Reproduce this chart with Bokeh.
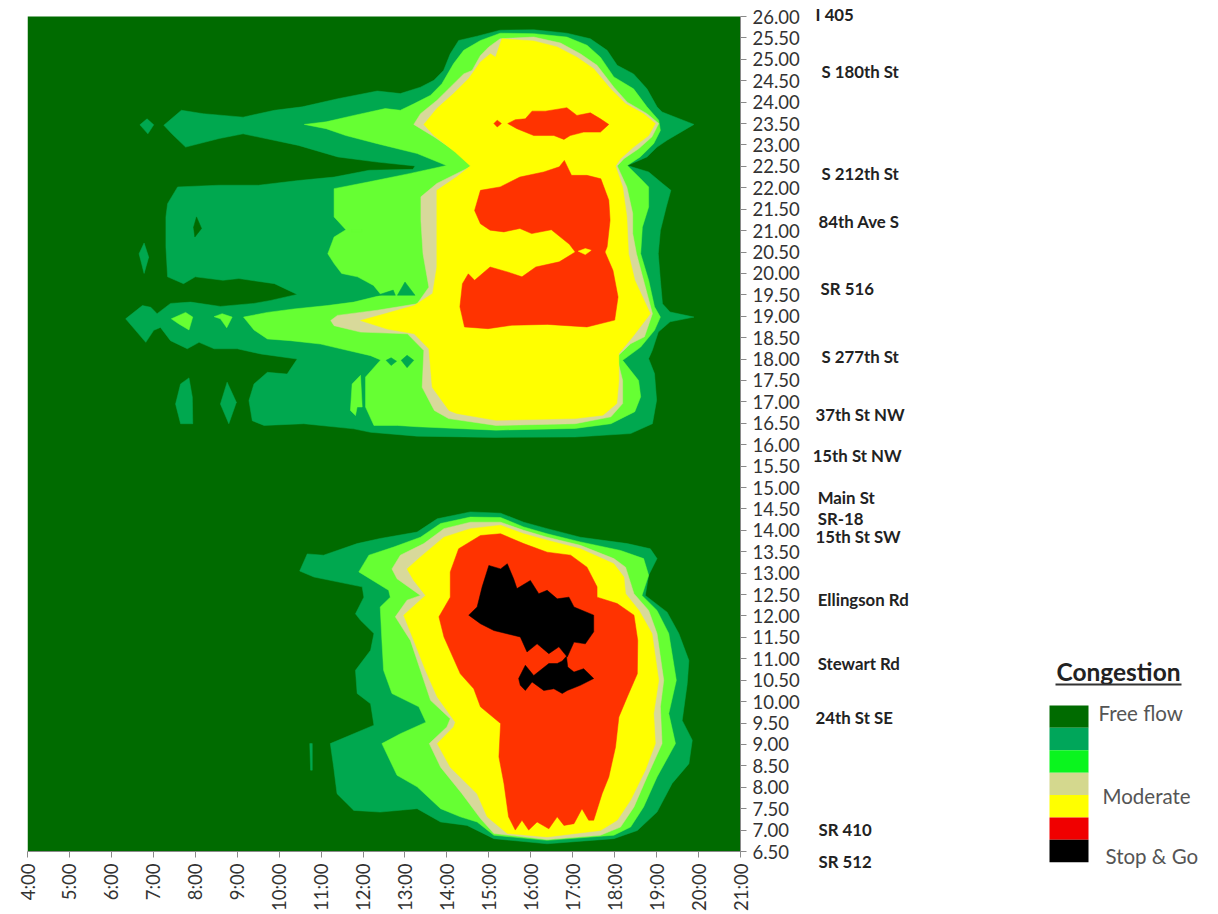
from math import pi
from bokeh.core.properties import value
from bokeh.embed import file_html
from bokeh.layouts import row
from bokeh.models import FixedTicker, Range1d
from bokeh.plotting import figure
from bokeh.resources import INLINE

FONT = "Lato"
C_FREE, C_LOW, C_MID, C_TAN, C_YEL, C_RED, C_BLK = "#006B00", "#00A84F", "#66FF33", "#D8D99A", "#FFFF00", "#FF3300", "#000000"

hour_ticks = list(range(4, 22))
hour_labels = [f"{h}:00" for h in hour_ticks]
mile_ticks = [6.5 + 0.5 * i for i in range(40)]

stations = ["I 405", "S 180th St", "S 212th St", "84th Ave S", "SR 516", "S 277th St", "37th St NW", "15th St NW",
            "Main St", "SR-18", "15th St SW", "Ellingson Rd", "Stewart Rd", "24th St SE", "SR 410", "SR 512"]
station_hour = [22.79, 22.93, 22.93, 22.86, 22.91, 22.93, 22.79, 22.72, 22.84, 22.84, 22.79, 22.84, 22.84, 22.79, 22.86, 22.86]
station_mile = [26.05, 24.72, 22.33, 21.21, 19.65, 18.06, 16.71, 15.75, 14.77, 14.28, 13.86, 12.39, 10.89, 9.63, 7.01, 6.27]

# North congestion: contour boundaries (hour of day, milepost)
n2_h = [15.27,16.07,16.86,17.42,17.82,18.06,18.45,18.77,19.01,19.13,19.89,19.25,19.01,18.77,18.30,18.81,19.14,19.34,19.23,19.09,19.04,19.09,19.14,19.32,19.89,19.32,19.04,18.90,18.81,18.95,19.00,18.90,18.38,17.06,15.17,13.29,12.18,11.78,10.59,9.64,9.36,9.28,9.40,9.72,10.19,10.43,9.56,9.00,8.45,8.09,7.81,7.41,7.17,7.01,6.82,6.34,6.74,6.94,7.09,7.41,7.89,8.60,9.40,9.80,10.43,9.89,9.04,8.66,8.00,7.72,7.34,7.30,7.30,7.34,7.58,8.57,9.51,10.46,11.31,12.15,13.19,13.24,12.34,11.40,10.46,9.14,8.57,7.77,7.44,7.25,7.67,8.19,9.14,9.89,10.55,11.40,12.34,12.89,13.37,13.69,13.92,14.08,14.28,14.72]
n2_m = [25.68,25.69,25.61,25.48,25.21,24.86,24.66,24.31,23.89,23.77,23.48,23.11,22.95,22.72,22.52,22.37,22.10,21.94,21.55,21.00,20.46,19.84,19.29,19.10,18.98,18.87,18.63,18.21,18.01,17.66,17.04,16.49,16.26,16.18,16.17,16.20,16.29,16.37,16.49,16.45,16.56,17.03,17.42,17.69,17.65,18.00,18.12,18.24,18.24,18.39,18.24,18.43,18.74,18.67,18.39,18.94,19.25,19.21,19.06,19.30,19.33,19.23,19.30,19.37,19.51,19.76,19.88,19.84,19.92,19.76,19.92,20.62,21.32,21.63,22.02,22.06,22.06,22.17,22.25,22.41,22.43,22.51,22.60,22.72,22.99,23.26,23.15,22.95,23.26,23.46,23.81,23.73,23.65,23.81,23.89,24.08,24.26,24.20,24.35,24.51,24.74,25.13,25.44,25.54]
n2_islands = [
    ([6.68,6.85,7.01,6.87], [23.47,23.61,23.47,23.26]),
    ([6.66,6.78,6.89,6.78], [20.46,20.71,20.38,20.00]),
    ([7.53,7.65,7.85,7.93,7.94,7.65], [16.95,17.42,17.56,17.11,16.49,16.49]),
    ([8.60,8.76,8.98,8.80], [16.95,17.46,16.99,16.49]),
]
n2_hole_h = [7.96,8.03,8.15,7.99]
n2_hole_m = [21.08,21.32,21.05,20.85]

n3_h = [15.27,16.07,16.86,17.34,17.66,17.98,18.45,18.77,19.05,19.09,18.93,18.61,18.30,18.62,18.81,18.81,18.66,18.62,18.81,18.95,19.09,18.95,18.62,18.19,18.57,18.62,18.48,17.91,17.06,15.17,13.29,12.82,12.26,12.06,12.06,12.42,12.18,11.47,10.99,10.27,9.72,9.40,9.15,9.72,10.35,11.15,11.78,12.44,12.25,11.87,11.49,11.31,11.16,11.31,11.59,11.31,11.31,12.15,13.10,13.99,13.29,12.34,11.59,11.12,10.60,11.12,11.78,12.53,12.89,13.21,13.61,13.88,14.16,14.40,14.80]
n3_m = [25.61,25.60,25.52,25.33,25.05,24.59,24.31,23.89,23.58,23.34,23.03,22.72,22.52,22.21,22.02,21.55,21.08,20.46,19.84,19.22,18.98,18.67,18.28,17.97,17.50,17.12,16.77,16.49,16.38,16.34,16.42,16.45,16.45,16.88,17.58,17.98,18.08,18.24,18.35,18.43,18.47,18.68,18.98,19.09,19.17,19.25,19.33,19.49,19.72,19.92,20.00,20.23,20.46,20.85,21.02,21.32,21.98,22.14,22.33,22.52,22.80,23.03,23.22,23.38,23.48,23.54,23.69,23.85,23.81,23.96,24.16,24.43,24.90,25.21,25.44]
n3_islands = [
    ([7.43,7.77,7.94,7.85,7.61], [18.94,19.09,18.98,18.68,18.82]),
    ([8.45,8.64,8.88,8.75,8.60], [18.99,19.06,18.98,18.73,18.94]),
    ([11.70,11.74,11.94,11.98,11.86,11.82], [16.80,17.42,17.62,16.88,16.88,16.68]),
    ([11.73,11.97,11.97,11.73], [21.03,21.02,20.97,20.97]),
]
n3_holes = [
    ([12.82,13.00,13.24], [19.49,19.80,19.49]),
    ([12.34,12.72,12.77], [19.49,19.61,19.49]),
    ([12.55,12.67,12.80,12.67], [17.97,18.03,17.95,17.85]),
    ([12.91,13.05,13.21,13.05], [17.97,18.09,17.97,17.80]),
]

n4_h = [15.27,16.07,16.71,17.18,17.58,17.98,18.30,18.77,19.05,18.89,18.57,18.22,18.06,18.29,18.43,18.43,18.52,18.71,18.90,18.71,18.38,18.05,18.19,18.19,17.91,17.06,15.17,14.04,13.70,13.41,13.45,13.06,11.94,11.31,11.23,11.39,11.94,12.34,13.29,13.57,13.43,13.38,13.38,13.76,14.60,14.24,13.69,13.21,13.37,13.76,14.08,14.40,14.60,14.80,15.00]
n4_m = [25.48,25.52,25.38,25.13,24.86,24.35,24.00,23.73,23.50,23.19,22.91,22.68,22.51,22.02,21.40,20.93,20.46,19.76,19.06,18.52,18.36,18.05,17.50,16.96,16.65,16.49,16.45,16.61,16.80,17.34,18.20,18.59,18.63,18.78,18.90,19.02,19.09,19.14,19.29,19.68,20.46,21.24,21.79,22.10,22.51,22.83,23.19,23.48,23.73,24.04,24.35,24.66,24.74,25.09,25.29]

n5_h = [15.31,16.07,16.63,17.10,17.50,17.90,18.26,18.69,18.97,18.81,18.45,18.14,18.02,18.19,18.29,18.33,18.48,18.85,18.43,18.10,18.10,18.05,17.72,17.06,15.17,14.23,14.05,13.65,13.57,13.22,12.58,11.94,12.50,13.22,13.66,13.76,13.76,13.76,14.23,14.56,14.20,13.69,13.45,13.76,14.16,14.52,14.80,15.04,15.16]
n5_m = [25.48,25.43,25.29,25.05,24.78,24.31,23.96,23.73,23.50,23.22,22.95,22.68,22.51,22.02,21.32,20.46,19.84,19.06,18.52,18.13,17.50,16.96,16.69,16.61,16.57,16.73,16.80,17.34,18.24,18.59,18.70,18.90,19.05,19.25,19.53,20.15,21.24,21.94,22.25,22.51,22.83,23.22,23.48,23.85,24.20,24.55,24.94,25.13,25.05]

n6a_h = [15.45,15.63,15.87,16.03,16.35,16.86,17.10,17.42,17.66,17.86,17.66,17.26,16.94,16.79,16.55,16.07,15.67]
n6a_m = [23.50,23.59,23.61,23.79,23.79,23.87,23.69,23.75,23.61,23.48,23.30,23.30,23.22,23.13,23.22,23.22,23.38]
n6s_h = [15.12,15.20,15.30,15.20]
n6s_m = [23.50,23.58,23.50,23.42]
n6b_h = [14.66,14.80,15.27,15.74,16.31,16.68,16.80,16.97,17.34,17.67,17.86,17.89,17.82,17.77,17.96,18.08,18.00,17.34,16.40,15.55,14.98,14.42,14.31,14.37,14.51,14.66,15.03,15.46,15.79,16.12,16.68,17.06,16.92,16.49,16.02,15.74,15.36,15.03,14.80]
n6b_m = [21.47,21.94,22.02,22.25,22.37,22.49,22.64,22.29,22.29,22.21,21.71,21.24,20.62,20.50,20.07,19.45,18.91,18.75,18.81,18.79,18.71,18.75,19.22,19.76,19.99,19.84,20.15,20.03,19.92,20.15,20.27,20.50,20.68,21.02,20.93,21.05,20.97,21.01,21.16]
n6_dot_h = [17.13,17.30,17.44,17.30]
n6_dot_m = [20.52,20.58,20.54,20.44]

# South congestion
s2_h = [10.49,10.67,11.06,11.86,12.41,13.29,13.77,14.56,15.28,15.83,16.39,17.18,18.30,18.85,19.01,18.81,18.73,19.25,19.53,19.77,19.73,19.61,19.85,19.77,19.37,19.01,18.54,17.98,16.39,15.12,14.48,13.85,13.29,12.41,11.78,11.38,11.30,11.22,12.26,12.18,11.86,11.82,12.18,12.26,11.94,11.82,12.02,11.98,10.83]
s2_m = [13.05,13.45,13.42,13.69,13.81,13.96,14.27,14.43,14.40,14.19,14.04,13.84,13.69,13.57,13.34,12.95,12.48,12.09,11.59,10.96,10.42,9.56,9.10,8.55,8.09,7.42,6.99,6.80,6.68,6.80,7.11,7.19,7.50,7.42,7.46,7.85,8.47,9.02,9.45,9.95,10.19,10.73,11.20,11.59,11.90,12.05,12.44,12.68,12.91]
s2_sliver_h = [10.73,10.79,10.79,10.75]
s2_sliver_m = [9.02,9.02,8.40,8.40]

s3_h = [11.90,12.14,12.73,13.37,13.85,14.56,15.28,15.83,16.39,17.18,18.14,18.69,18.81,18.65,19.01,19.29,19.47,19.29,19.45,19.01,18.69,18.38,17.98,16.39,15.12,14.72,14.32,13.85,13.29,12.81,12.45,12.89,13.50,13.33,12.69,12.49,12.45,12.41,12.65,12.61]
s3_m = [13.03,13.42,13.61,13.84,14.16,14.31,14.30,14.08,13.92,13.73,13.53,13.34,12.95,12.48,12.13,11.59,10.50,9.72,9.02,8.24,7.54,7.07,6.88,6.76,6.88,7.19,7.31,7.50,8.01,8.28,9.02,9.25,9.52,9.88,10.19,10.73,11.43,12.21,12.44,12.60]

s4_h = [12.69,12.89,13.45,13.93,14.56,15.28,15.83,16.39,17.18,17.98,18.26,18.46,18.81,19.01,19.17,19.09,19.13,18.77,18.46,18.14,17.66,16.39,15.12,14.80,14.36,13.85,13.58,14.00,14.08,13.61,13.37,13.13,12.77,13.05,13.37,12.81]
s4_m = [13.10,13.42,13.69,14.04,14.19,14.19,14.00,13.84,13.65,13.34,13.14,12.52,12.13,11.59,10.50,9.88,9.02,8.24,7.54,7.07,6.88,6.78,6.92,7.27,7.85,8.47,9.02,9.41,9.60,10.03,10.73,11.43,11.98,12.37,12.48,12.87]

s5_h = [13.05,13.37,13.93,14.56,15.28,15.83,16.39,17.18,17.98,18.22,18.26,18.58,18.89,19.05,18.93,18.97,18.73,18.38,18.06,17.66,16.39,15.44,14.96,14.72,14.08,13.77,14.16,14.20,13.77,13.49,13.21,12.97,13.49,13.21]
s5_m = [13.10,13.38,13.84,14.04,14.12,13.92,13.77,13.57,13.22,12.91,12.52,12.13,11.59,10.50,9.72,9.02,8.40,7.70,7.23,6.99,6.84,6.92,7.31,7.85,8.47,9.02,9.41,9.52,10.11,10.73,11.43,12.02,12.48,12.83]

s6_h = [14.08,14.28,14.80,15.28,15.83,16.39,16.95,17.34,17.58,17.58,18.06,18.46,18.55,18.54,18.30,18.10,18.02,17.86,17.70,17.50,17.38,17.22,17.03,16.79,16.63,16.43,16.15,15.95,15.79,15.63,15.47,15.36,15.24,15.28,14.80,14.64,14.32,13.93,13.81,14.08]
s6_m = [13.03,13.57,13.88,13.92,13.69,13.49,13.42,13.14,12.68,12.44,12.29,12.02,11.43,10.65,10.11,9.64,8.94,8.24,7.85,7.23,7.23,7.50,7.15,7.11,7.31,7.03,7.19,7.00,7.23,7.00,7.31,8.09,8.71,9.49,9.88,10.30,10.65,11.51,11.98,12.44]

s7a_h = [14.52,14.72,14.84,15.00,15.28,15.44,15.59,15.67,15.99,16.19,16.39,16.63,16.91,17.03,17.50,17.50,17.30,17.03,16.87,16.67,16.43,16.15,15.91,15.75,15.12,14.80]
s7a_m = [12.02,12.21,12.68,13.18,13.10,13.22,12.87,12.64,12.83,12.52,12.60,12.40,12.44,12.21,12.02,11.63,11.35,11.39,11.04,11.28,11.12,11.35,11.16,11.51,11.66,11.82]
s7b_h = [15.71,15.87,16.07,16.43,16.63,16.75,16.85,16.88,17.03,17.26,17.50,17.18,16.87,16.75,16.55,16.31,16.03,15.87,15.75]
s7b_m = [10.54,10.85,10.61,10.89,10.89,10.95,11.06,10.81,10.69,10.77,10.54,10.38,10.26,10.19,10.30,10.26,10.46,10.26,10.38]

legend_colors = ["#006B00", "#00A65A", "#0AF51E", "#D4D88E", "#FFFF00", "#F00000", "#000000"]
legend_labels = ["Free flow", "Moderate", "Stop & Go"]
legend_label_pos = [0.36, 4.06, 6.74]
legend_label_x = [49, 53, 56]

layers = [(n2_h, n2_m, C_LOW)] + [(h, m, C_LOW) for h, m in n2_islands] + [(n2_hole_h, n2_hole_m, C_FREE)]
layers += [(n3_h, n3_m, C_MID)] + [(h, m, C_MID) for h, m in n3_islands] + [(h, m, C_LOW) for h, m in n3_holes]
layers += [(n4_h, n4_m, C_TAN), (n5_h, n5_m, C_YEL), (n6a_h, n6a_m, C_RED), (n6s_h, n6s_m, C_RED),
           (n6b_h, n6b_m, C_RED), (n6_dot_h, n6_dot_m, C_YEL)]
layers += [(s2_h, s2_m, C_LOW), (s2_sliver_h, s2_sliver_m, C_LOW), (s3_h, s3_m, C_MID), (s4_h, s4_m, C_TAN),
           (s5_h, s5_m, C_YEL), (s6_h, s6_m, C_RED), (s7a_h, s7a_m, C_BLK), (s7b_h, s7b_m, C_BLK)]

TOP_MILE = 26 + 16 / (835 / 19.5)   # frame reaches the top of the page so text above 26.00 is not clipped
p = figure(output_backend="svg", toolbar_location=None,
           x_range=Range1d(4, 21), y_range=Range1d(6.5, TOP_MILE), y_axis_location="right",
           min_border_left=27, min_border_top=0, min_border_right=68, min_border_bottom=58,
           frame_width=713, frame_height=851)
p.outline_line_color = None
p.grid.visible = False
p.background_fill_color = "white"
p.border_fill_color = "white"

p.quad(left=[4], right=[21], bottom=[6.5], top=[26], fill_color=C_FREE, line_color=None)
for h, m, c in layers:
    p.patch(h, m, fill_color=c, line_color=c, line_width=0.5)

xa, ya = p.xaxis[0], p.yaxis[0]
xa.ticker = FixedTicker(ticks=hour_ticks)
xa.major_label_overrides = {h: s for h, s in zip(hour_ticks, hour_labels)}
xa.major_label_orientation = pi / 2
ya.ticker = FixedTicker(ticks=mile_ticks)
ya.major_label_overrides = {m: f"{m:.2f}" for m in mile_ticks}
ya.bounds = (6.5, 26)
for ax in (xa, ya):
    ax.axis_line_color = "#8a8a8a"
    ax.major_tick_line_color = "#8a8a8a"
    ax.major_tick_out = 6
    ax.major_tick_in = 0
    ax.minor_tick_line_color = None
    ax.major_label_text_font = FONT
    ax.major_label_text_font_size = "18.5px"
    ax.major_label_text_color = "#333333"
    ax.major_label_standoff = 6

# Side panel: station names on the chart's own hour/milepost scales, legend on its own ranges.
PX_HOUR, PX_MILE = 713 / 17, 835 / 19.5
lg = figure(output_backend="svg", toolbar_location=None, frame_width=402, frame_height=909,
            x_axis_location=None, y_axis_location=None,
            x_range=Range1d(21 + 68 / PX_HOUR, 21 + 470 / PX_HOUR),
            y_range=Range1d(6.5 - 58 / PX_MILE, TOP_MILE),
            extra_x_ranges={"lg": Range1d(-241, 161)}, extra_y_ranges={"lg": Range1d(9.11, -31.47)},
            min_border_left=0, min_border_right=0, min_border_top=0, min_border_bottom=0)
lg.grid.visible = False
lg.outline_line_color = None
lg.text(x=station_hour, y=station_mile, text=stations, text_font=value(FONT), text_font_style="bold",
        text_font_size="16.8px", text_color="#222222", text_align="left", text_baseline="middle")
idx = list(range(len(legend_colors)))
lg.quad(left=[0] * len(idx), right=[39] * len(idx), top=idx, bottom=[i + 1 for i in idx],
        fill_color=legend_colors, line_color=None, x_range_name="lg", y_range_name="lg")
lg.text(x=[69], y=[-1.52], text=["Congestion"], text_font=value(FONT), text_font_style="bold",
        text_font_size="24.5px", text_color="#222222", text_align="center", text_baseline="middle",
        x_range_name="lg", y_range_name="lg")
lg.line(x=[6, 132], y=[-0.94, -0.94], line_color="#333333", line_width=2, x_range_name="lg", y_range_name="lg")
lg.text(x=legend_label_x, y=legend_label_pos, text=legend_labels, text_font=value(FONT),
        text_font_size="20.5px", text_color="#555555", text_align="left", text_baseline="middle",
        x_range_name="lg", y_range_name="lg")

open("out.html", "w").write(file_html(row(p, lg, spacing=0), INLINE))
